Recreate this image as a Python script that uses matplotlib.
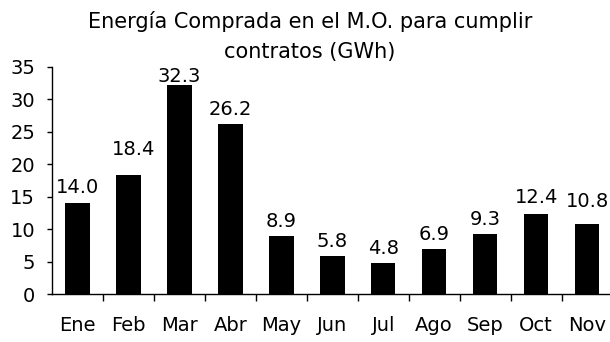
import matplotlib
matplotlib.use("Agg")
import matplotlib.pyplot as plt
import numpy as np

# Monthly energy bought on the spot market (GWh)
months = ["Ene", "Feb", "Mar", "Abr", "May", "Jun", "Jul", "Ago", "Sep", "Oct", "Nov"]
energy_gwh = [14.0, 18.4, 32.3, 26.2, 8.9, 5.8, 4.8, 6.9, 9.3, 12.4, 10.8]
y_ticks = [0, 5, 10, 15, 20, 25, 30, 35]

# Per-label nudges (points) for the value annotations
label_dx = [0, 4, 0, 0, 0, 0, 0, 0, 0, 0, 0]
label_dy = [7, 14, 1.7, 6.5, 6.5, 6.8, 6.3, 6.6, 6.2, 7.5, 12.2]

plt.rcParams["font.family"] = ["DejaVu Sans"]
FS = 14

fig = plt.figure(figsize=(6.10, 3.42), dpi=100)
ax = fig.add_axes([52 / 610, 48 / 342, 558 / 610, 227 / 342])

x = np.arange(len(months))
ax.bar(x, energy_gwh, width=0.48, color="black", edgecolor="none")

for xi, v, dx, dy in zip(x, energy_gwh, label_dx, label_dy):
    ax.annotate(f"{v:.1f}", (xi, v), xytext=(dx, dy), textcoords="offset points",
                ha="center", va="baseline", fontsize=FS, color="black")

ax.set_xlim(-0.5, 10.45)
ax.set_ylim(0, 35)
ax.set_yticks(y_ticks)
ax.set_xticks(x)
ax.set_xticklabels(months)
ax.set_xticks(x[:-1] + 0.5, minor=True)

ax.tick_params(axis="y", direction="out", length=3.6, width=1, pad=8.5,
               labelsize=FS, colors="black")
ax.tick_params(axis="x", which="major", length=0, pad=16, labelsize=FS)
ax.tick_params(axis="x", which="minor", direction="out", length=5, width=1)

for side in ("top", "right"):
    ax.spines[side].set_visible(False)
for side in ("left", "bottom"):
    ax.spines[side].set_linewidth(1)
    ax.spines[side].set_color("black")

fig.text(310 / 610, 1 - 28 / 342, "Energía Comprada en el M.O. para cumplir",
         ha="center", va="baseline", fontsize=15)
fig.text(310 / 610, 1 - 58 / 342, "contratos (GWh)",
         ha="center", va="baseline", fontsize=15)

fig.savefig("out.png", dpi=100, facecolor="white")
